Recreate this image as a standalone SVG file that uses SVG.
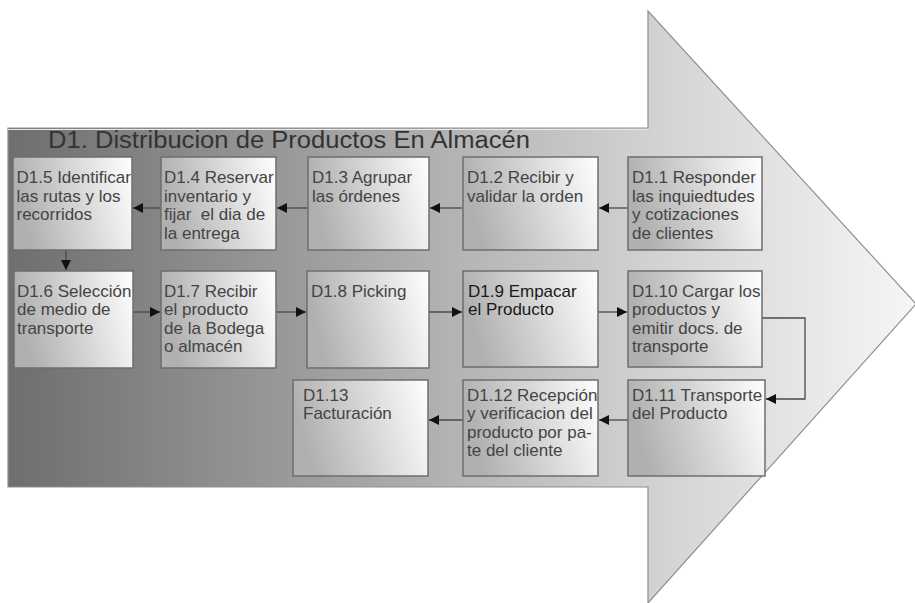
<svg xmlns="http://www.w3.org/2000/svg" width="915" height="603" viewBox="0 0 915 603">
<defs>
<linearGradient id="arrowGrad" gradientUnits="userSpaceOnUse" x1="8" y1="0" x2="915" y2="0">
<stop offset="0" stop-color="#6e6e6e"/>
<stop offset="0.68" stop-color="#cecece"/>
<stop offset="1" stop-color="#f6f6f6"/>
</linearGradient>
<linearGradient id="boxGrad" x1="0" y1="0.2" x2="1" y2="0">
<stop offset="0" stop-color="#b0b0b0"/>
<stop offset="1" stop-color="#ffffff"/>
</linearGradient>
<marker id="ah" viewBox="0 0 10 10" refX="10" refY="5" markerWidth="11" markerHeight="10" markerUnits="userSpaceOnUse" orient="auto">
<path d="M0,0 L10,5 L0,10 Z" fill="#111"/>
</marker>
</defs>
<style>
.box{fill:url(#boxGrad);stroke:#6e6e6e;stroke-width:1.5}
.t{font-family:"Liberation Sans",Arial,sans-serif;font-size:17px;fill:#444}
.b{fill:#1a1a1a}
.title{font-family:"Liberation Sans",Arial,sans-serif;font-size:23px;fill:#333}
.c{fill:none;stroke:#4a4a4a;stroke-width:1.3;marker-end:url(#ah)}
</style>
<g id="arrow">
<path d="M8,128 L648,128 L648,11 L916,304 L648,603 L648,487 L8,487 Z" fill="url(#arrowGrad)" stroke="#8f8f8f" stroke-width="1.2"/>
<line x1="8" y1="129.5" x2="647" y2="129.5" stroke="#e8e8e8" stroke-width="1"/>
</g>
<text class="title" x="48" y="147.5" textLength="482" lengthAdjust="spacingAndGlyphs">D1. Distribucion de Productos En Almacén</text>
<g id="connectors">
<line class="c" x1="628" y1="208" x2="599" y2="208"/>
<line class="c" x1="462" y1="208" x2="430" y2="208"/>
<line class="c" x1="308" y1="208" x2="277" y2="208"/>
<line class="c" x1="160" y1="208" x2="133" y2="208"/>
<line class="c" x1="66" y1="250" x2="66" y2="270"/>
<line class="c" x1="133" y1="312" x2="160" y2="312"/>
<line class="c" x1="276" y1="312" x2="306" y2="312"/>
<line class="c" x1="429" y1="312" x2="462" y2="312"/>
<line class="c" x1="598" y1="312" x2="627" y2="312"/>
<polyline class="c" points="762,318 805,318 805,399 766,399"/>
<line class="c" x1="628" y1="420" x2="599" y2="420"/>
<line class="c" x1="463" y1="420" x2="429" y2="420"/>
</g>
<g id="n1_1">
<rect class="box" x="628" y="157" width="134" height="93"/>
<text class="t" x="632" y="182.5">D1.1 Responder</text>
<text class="t" x="632" y="201.5">las inquiedtudes</text>
<text class="t" x="632" y="220">y cotizaciones</text>
<text class="t" x="632" y="238.5">de clientes</text>
</g>
<g id="n1_2">
<rect class="box" x="463" y="157" width="135" height="93"/>
<text class="t" x="467" y="182.5">D1.2 Recibir y</text>
<text class="t" x="467" y="201.5">validar la orden</text>
</g>
<g id="n1_3">
<rect class="box" x="308" y="157" width="121" height="93"/>
<text class="t" x="312" y="182.5">D1.3 Agrupar</text>
<text class="t" x="312" y="201.5">las órdenes</text>
</g>
<g id="n1_4">
<rect class="box" x="161" y="157" width="115" height="93"/>
<text class="t" x="164" y="182.5">D1.4 Reservar</text>
<text class="t" x="164" y="201.5">inventario y</text>
<text class="t" x="164" y="220" xml:space="preserve">fijar  el dia de</text>
<text class="t" x="164" y="238.5">la entrega</text>
</g>
<g id="n1_5">
<rect class="box" x="13" y="157" width="119" height="93"/>
<text class="t" x="16.5" y="182.5">D1.5 Identificar</text>
<text class="t" x="16.5" y="201.5">las rutas y los</text>
<text class="t" x="16.5" y="220">recorridos</text>
</g>
<g id="n1_6">
<rect class="box" x="14" y="271" width="119" height="97"/>
<text class="t" x="17" y="296.5">D1.6 Selección</text>
<text class="t" x="17" y="315">de medio de</text>
<text class="t" x="17" y="333.5">transporte</text>
</g>
<g id="n1_7">
<rect class="box" x="161" y="271" width="115" height="97"/>
<text class="t" x="164" y="296.5">D1.7 Recibir</text>
<text class="t" x="164" y="315">el producto</text>
<text class="t" x="164" y="333.5">de la Bodega</text>
<text class="t" x="164" y="352">o almacén</text>
</g>
<g id="n1_8">
<rect class="box" x="307" y="271" width="122" height="97"/>
<text class="t" x="311" y="296.5">D1.8 Picking</text>
</g>
<g id="n1_9">
<rect class="box" x="463" y="271" width="135" height="96"/>
<text class="t b" x="468" y="296.5">D1.9 Empacar</text>
<text class="t b" x="468" y="315">el Producto</text>
</g>
<g id="n1_10">
<rect class="box" x="628" y="271" width="134" height="96"/>
<text class="t" x="632" y="296.5">D1.10 Cargar los</text>
<text class="t" x="632" y="315">productos y</text>
<text class="t" x="632" y="333.5">emitir docs. de</text>
<text class="t" x="632" y="352">transporte</text>
</g>
<g id="n1_11">
<rect class="box" x="628" y="380" width="137" height="96"/>
<text class="t" x="632" y="400.5">D1.11 Transporte</text>
<text class="t" x="632" y="419">del Producto</text>
</g>
<g id="n1_12">
<rect class="box" x="463" y="380" width="135" height="96"/>
<text class="t" x="467" y="400.5">D1.12 Recepción</text>
<text class="t" x="467" y="419">y verificacion del</text>
<text class="t" x="467" y="437.5">producto por pa-</text>
<text class="t" x="467" y="456">te del cliente</text>
</g>
<g id="n1_13">
<rect class="box" x="293" y="380" width="135" height="96"/>
<text class="t" x="303" y="400.5">D1.13</text>
<text class="t" x="303" y="419">Facturación</text>
</g>
</svg>
